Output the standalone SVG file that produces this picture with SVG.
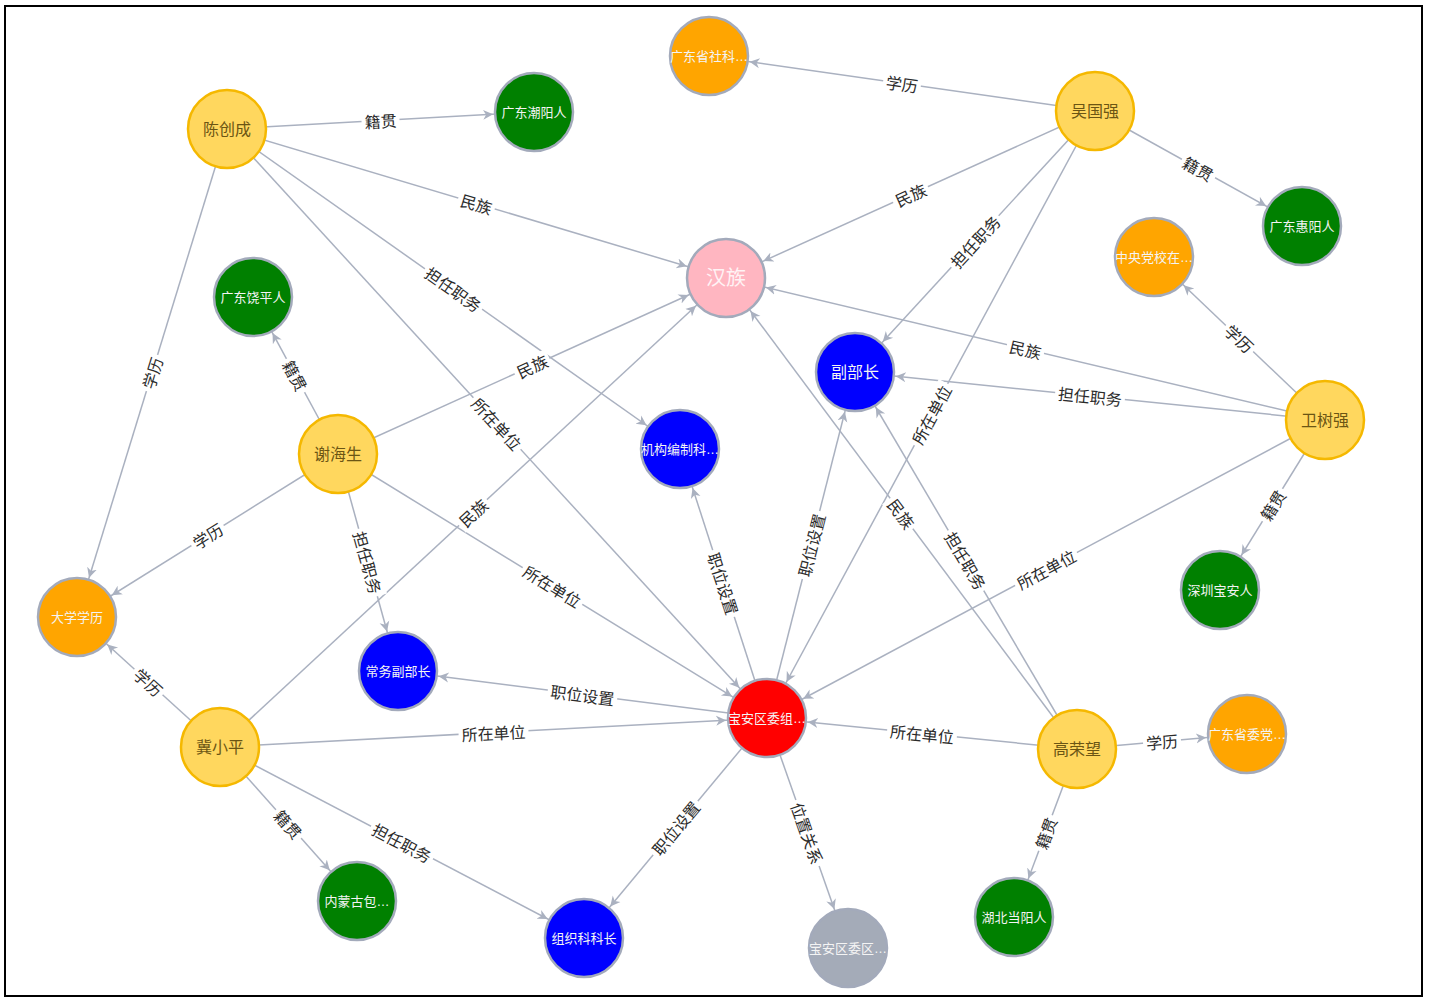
<svg xmlns="http://www.w3.org/2000/svg" width="1432" height="1004" viewBox="0 0 1432 1004">
<style>
.e{stroke:#aab1c0;stroke-width:1.5;fill:none;marker-end:url(#arr)}
.lb rect{fill:#fff}
.lb text{font-family:"Noto Sans CJK SC","Noto Sans",sans-serif;font-size:16px;fill:#2b2b2b;text-anchor:middle;dominant-baseline:central}
.n circle{stroke:#a3aabb;stroke-width:2.5}
.n text{font-family:"Liberation Sans","Noto Sans CJK SC",sans-serif;font-size:13px;fill:#f4f4f4;text-anchor:middle;dominant-baseline:central}
.y circle{fill:#ffd75e;stroke:#f5b800;stroke-width:2.5}
.y text{font-size:16px;fill:#6b5514}
.or circle{fill:#ffa500}
.gr circle{fill:#008000}
.bl circle{fill:#0000ff}
</style>
<defs>
<marker id="arr" viewBox="0 0 60 20" refX="51" refY="10" markerWidth="60" markerHeight="20" markerUnits="userSpaceOnUse" orient="auto">
<path d="M0,5 L10,10 L0,15 L3,10 Z" fill="#aab1c0"/>
</marker>
</defs>
<rect x="5" y="6" width="1417" height="990" fill="#fff" stroke="#000" stroke-width="2"/>
<g id="connectors">
<line class="e" x1="1095" y1="111" x2="709" y2="56"/>
<line class="e" x1="227" y1="129" x2="534" y2="112"/>
<line class="e" x1="227" y1="129" x2="726" y2="278"/>
<line class="e" x1="227" y1="129" x2="680" y2="449"/>
<line class="e" x1="227" y1="129" x2="767" y2="718"/>
<line class="e" x1="227" y1="129" x2="77" y2="617"/>
<line class="e" x1="1095" y1="111" x2="726" y2="278"/>
<line class="e" x1="1095" y1="111" x2="1302" y2="226"/>
<line class="e" x1="1095" y1="111" x2="855" y2="372"/>
<line class="e" x1="1095" y1="111" x2="767" y2="718"/>
<line class="e" x1="1325" y1="420" x2="1154" y2="257"/>
<line class="e" x1="1325" y1="420" x2="726" y2="278"/>
<line class="e" x1="1325" y1="420" x2="855" y2="372"/>
<line class="e" x1="1325" y1="420" x2="1220" y2="590"/>
<line class="e" x1="1325" y1="420" x2="767" y2="718"/>
<line class="e" x1="338" y1="454" x2="253" y2="297"/>
<line class="e" x1="338" y1="454" x2="726" y2="278"/>
<line class="e" x1="338" y1="454" x2="77" y2="617"/>
<line class="e" x1="338" y1="454" x2="398" y2="671"/>
<line class="e" x1="338" y1="454" x2="767" y2="718"/>
<line class="e" x1="220" y1="747" x2="726" y2="278"/>
<line class="e" x1="220" y1="747" x2="77" y2="617"/>
<line class="e" x1="220" y1="747" x2="767" y2="718"/>
<line class="e" x1="220" y1="747" x2="357" y2="901"/>
<line class="e" x1="220" y1="747" x2="584" y2="938"/>
<line class="e" x1="767" y1="718" x2="398" y2="671"/>
<line class="e" x1="767" y1="718" x2="680" y2="449"/>
<line class="e" x1="767" y1="718" x2="855" y2="372"/>
<line class="e" x1="767" y1="718" x2="584" y2="938"/>
<line class="e" x1="767" y1="718" x2="848" y2="948"/>
<line class="e" x1="1077" y1="749" x2="767" y2="718"/>
<line class="e" x1="1077" y1="749" x2="1247" y2="734"/>
<line class="e" x1="1077" y1="749" x2="1014" y2="917"/>
<line class="e" x1="1077" y1="749" x2="726" y2="278"/>
<line class="e" x1="1077" y1="749" x2="855" y2="372"/>
<g class="lb">
<g transform="translate(902,83.5) rotate(8.1)"><rect x="-19" y="-10" width="38" height="20"/><text>学历</text></g>
<g transform="translate(380.5,120.5) rotate(-3.2)"><rect x="-19" y="-10" width="38" height="20"/><text>籍贯</text></g>
<g transform="translate(476.5,203.5) rotate(16.6)"><rect x="-19" y="-10" width="38" height="20"/><text>民族</text></g>
<g transform="translate(453.5,289) rotate(35.2)"><rect x="-35" y="-10" width="70" height="20"/><text>担任职务</text></g>
<g transform="translate(497,423.5) rotate(47.5)"><rect x="-35" y="-10" width="70" height="20"/><text>所在单位</text></g>
<g transform="translate(152,373) rotate(-72.9)"><rect x="-19" y="-10" width="38" height="20"/><text>学历</text></g>
<g transform="translate(910.5,194.5) rotate(-24.3)"><rect x="-19" y="-10" width="38" height="20"/><text>民族</text></g>
<g transform="translate(1198.5,168.5) rotate(29.1)"><rect x="-19" y="-10" width="38" height="20"/><text>籍贯</text></g>
<g transform="translate(975,241.5) rotate(-47.4)"><rect x="-35" y="-10" width="70" height="20"/><text>担任职务</text></g>
<g transform="translate(931,414.5) rotate(-61.6)"><rect x="-35" y="-10" width="70" height="20"/><text>所在单位</text></g>
<g transform="translate(1239.5,338.5) rotate(43.6)"><rect x="-19" y="-10" width="38" height="20"/><text>学历</text></g>
<g transform="translate(1025.5,349) rotate(13.3)"><rect x="-19" y="-10" width="38" height="20"/><text>民族</text></g>
<g transform="translate(1090,396) rotate(5.8)"><rect x="-35" y="-10" width="70" height="20"/><text>担任职务</text></g>
<g transform="translate(1272.5,505) rotate(-58.3)"><rect x="-19" y="-10" width="38" height="20"/><text>籍贯</text></g>
<g transform="translate(1046,569) rotate(-28.1)"><rect x="-35" y="-10" width="70" height="20"/><text>所在单位</text></g>
<g transform="translate(295.5,375.5) rotate(61.6)"><rect x="-19" y="-10" width="38" height="20"/><text>籍贯</text></g>
<g transform="translate(532,366) rotate(-24.4)"><rect x="-19" y="-10" width="38" height="20"/><text>民族</text></g>
<g transform="translate(207.5,535.5) rotate(-32)"><rect x="-19" y="-10" width="38" height="20"/><text>学历</text></g>
<g transform="translate(368,562.5) rotate(74.5)"><rect x="-35" y="-10" width="70" height="20"/><text>担任职务</text></g>
<g transform="translate(552.5,586) rotate(31.6)"><rect x="-35" y="-10" width="70" height="20"/><text>所在单位</text></g>
<g transform="translate(473,512.5) rotate(-42.8)"><rect x="-19" y="-10" width="38" height="20"/><text>民族</text></g>
<g transform="translate(148.5,682) rotate(42.3)"><rect x="-19" y="-10" width="38" height="20"/><text>学历</text></g>
<g transform="translate(493.5,732.5) rotate(-3)"><rect x="-35" y="-10" width="70" height="20"/><text>所在单位</text></g>
<g transform="translate(288.5,824) rotate(48.3)"><rect x="-19" y="-10" width="38" height="20"/><text>籍贯</text></g>
<g transform="translate(402,842.5) rotate(27.7)"><rect x="-35" y="-10" width="70" height="20"/><text>担任职务</text></g>
<g transform="translate(582.5,694.5) rotate(7.3)"><rect x="-35" y="-10" width="70" height="20"/><text>职位设置</text></g>
<g transform="translate(723.5,583.5) rotate(72.1)"><rect x="-35" y="-10" width="70" height="20"/><text>职位设置</text></g>
<g transform="translate(811,545) rotate(-75.7)"><rect x="-35" y="-10" width="70" height="20"/><text>职位设置</text></g>
<g transform="translate(675.5,828) rotate(-50.2)"><rect x="-35" y="-10" width="70" height="20"/><text>职位设置</text></g>
<g transform="translate(807.5,833) rotate(70.6)"><rect x="-35" y="-10" width="70" height="20"/><text>位置关系</text></g>
<g transform="translate(922,733.5) rotate(5.7)"><rect x="-35" y="-10" width="70" height="20"/><text>所在单位</text></g>
<g transform="translate(1162,741.5) rotate(-5)"><rect x="-19" y="-10" width="38" height="20"/><text>学历</text></g>
<g transform="translate(1045.5,833) rotate(-69.4)"><rect x="-19" y="-10" width="38" height="20"/><text>籍贯</text></g>
<g transform="translate(901.5,513.5) rotate(53.3)"><rect x="-19" y="-10" width="38" height="20"/><text>民族</text></g>
<g transform="translate(966,560.5) rotate(59.5)"><rect x="-35" y="-10" width="70" height="20"/><text>担任职务</text></g>
</g>
</g>
<g id="n-gdskk" class="n or"><circle cx="709" cy="56" r="39"/><text x="709" y="56">广东省社科…</text></g>
<g id="n-ccc" class="n y"><circle cx="227" cy="129" r="39"/><text x="227" y="129">陈创成</text></g>
<g id="n-gdcy" class="n gr"><circle cx="534" cy="112" r="39"/><text x="534" y="112">广东潮阳人</text></g>
<g id="n-wgq" class="n y"><circle cx="1095" cy="111" r="39"/><text x="1095" y="111">吴国强</text></g>
<g id="n-gdhy" class="n gr"><circle cx="1302" cy="226" r="39"/><text x="1302" y="226">广东惠阳人</text></g>
<g id="n-zydx" class="n or"><circle cx="1154" cy="257" r="39"/><text x="1154" y="257">中央党校在…</text></g>
<g id="n-hz" class="n"><circle cx="726" cy="278" r="39" fill="#ffb6c1"/><text x="726" y="278" style="font-size:20px;fill:#fff3f5">汉族</text></g>
<g id="n-gdrp" class="n gr"><circle cx="253" cy="297" r="39"/><text x="253" y="297">广东饶平人</text></g>
<g id="n-fbz" class="n bl"><circle cx="855" cy="372" r="39"/><text x="855" y="372" style="font-size:16px">副部长</text></g>
<g id="n-wsq" class="n y"><circle cx="1325" cy="420" r="39"/><text x="1325" y="420">卫树强</text></g>
<g id="n-jgbz" class="n bl"><circle cx="680" cy="449" r="39"/><text x="680" y="449">机构编制科…</text></g>
<g id="n-xhs" class="n y"><circle cx="338" cy="454" r="39"/><text x="338" y="454">谢海生</text></g>
<g id="n-szba" class="n gr"><circle cx="1220" cy="590" r="39"/><text x="1220" y="590">深圳宝安人</text></g>
<g id="n-dxxl" class="n or"><circle cx="77" cy="617" r="39"/><text x="77" y="617">大学学历</text></g>
<g id="n-cwfbz" class="n bl"><circle cx="398" cy="671" r="39"/><text x="398" y="671">常务副部长</text></g>
<g id="n-baqwz" class="n"><circle cx="767" cy="718" r="39" fill="#ff0000"/><text x="767" y="718">宝安区委组…</text></g>
<g id="n-jxp" class="n y"><circle cx="220" cy="747" r="39"/><text x="220" y="747">冀小平</text></g>
<g id="n-grw" class="n y"><circle cx="1077" cy="749" r="39"/><text x="1077" y="749">高荣望</text></g>
<g id="n-gdswd" class="n or"><circle cx="1247" cy="734" r="39"/><text x="1247" y="734">广东省委党…</text></g>
<g id="n-nmgb" class="n gr"><circle cx="357" cy="901" r="39"/><text x="357" y="901">内蒙古包…</text></g>
<g id="n-zzkkz" class="n bl"><circle cx="584" cy="938" r="39"/><text x="584" y="938">组织科科长</text></g>
<g id="n-baqwq" class="n"><circle cx="848" cy="948" r="39" fill="#a4abb8"/><text x="848" y="948">宝安区委区…</text></g>
<g id="n-hbdy" class="n gr"><circle cx="1014" cy="917" r="39"/><text x="1014" y="917">湖北当阳人</text></g>
</svg>
